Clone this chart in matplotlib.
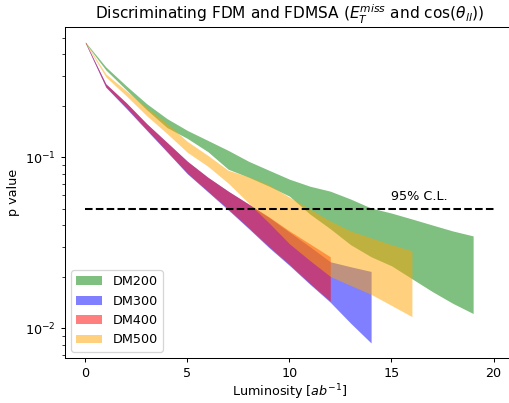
import matplotlib
matplotlib.use("Agg")
import matplotlib.pyplot as plt

# ── Data (p value bands vs luminosity) ────────────────────────────────────────

lumi_200 = list(range(0, 20))
dm200_hi = [0.4725, 0.3381, 0.2622, 0.2061, 0.1685, 0.1436, 0.1256, 0.1098, 0.0948, 0.0840,
            0.0745, 0.0678, 0.0634, 0.0570, 0.0505, 0.0472, 0.0436, 0.0402, 0.0371, 0.0347]
dm200_lo = [0.4662, 0.3248, 0.2485, 0.1901, 0.1494, 0.1290, 0.1080, 0.0852, 0.0765, 0.0678,
            0.0593, 0.0466, 0.0382, 0.0308, 0.0262, 0.0232, 0.0195, 0.0164, 0.0140, 0.0122]

lumi_300 = list(range(0, 15))
dm300_hi = [0.4725, 0.2693, 0.2088, 0.1576, 0.1223, 0.0948, 0.0765, 0.0634, 0.0533, 0.0445,
            0.0365, 0.0300, 0.0245, 0.0229, 0.0215]
dm300_lo = [0.4662, 0.2570, 0.1935, 0.1440, 0.1075, 0.0800, 0.0628, 0.0492, 0.0383, 0.0296,
            0.0233, 0.0181, 0.0142, 0.0107, 0.0082]

lumi_400 = list(range(0, 13))
dm400_hi = [0.4725, 0.2693, 0.2088, 0.1576, 0.1223, 0.0948, 0.0765, 0.0634, 0.0533, 0.0448,
            0.0371, 0.0312, 0.0262]
dm400_lo = [0.4662, 0.2587, 0.1953, 0.1455, 0.1084, 0.0807, 0.0634, 0.0498, 0.0387, 0.0300,
            0.0236, 0.0183, 0.0144]

lumi_500 = list(range(0, 17))
dm500_hi = [0.4725, 0.3078, 0.2452, 0.1953, 0.1576, 0.1239, 0.1027, 0.0840, 0.0770, 0.0690,
            0.0585, 0.0498, 0.0424, 0.0371, 0.0338, 0.0308, 0.0284]
dm500_lo = [0.4662, 0.2957, 0.2293, 0.1754, 0.1378, 0.1069, 0.0887, 0.0706, 0.0540, 0.0413,
            0.0312, 0.0249, 0.0201, 0.0178, 0.0158, 0.0136, 0.0117]

CL_LEVEL = 0.05

# ── Plot ──────────────────────────────────────────────────────────────────────

DPI = 92
fig = plt.figure(figsize=(509 / DPI, 403 / DPI), dpi=DPI)
ax = fig.add_axes([0.1277, 0.1117, 0.882, 0.821])

bands = [
    ("DM200", lumi_200, dm200_lo, dm200_hi, "green"),
    ("DM300", lumi_300, dm300_lo, dm300_hi, "blue"),
    ("DM400", lumi_400, dm400_lo, dm400_hi, "red"),
    ("DM500", lumi_500, dm500_lo, dm500_hi, "orange"),
]
for name, x, lo, hi, col in bands:
    ax.fill_between(x, lo, hi, color=col, alpha=0.5, linewidth=0, label=name)

ax.hlines(CL_LEVEL, 0, 20, colors="black", linestyles="--", linewidth=1.6)
ax.text(15, 0.056, "95% C.L.")

ax.set_yscale("log")
ax.set_xlim(-1, 21)
ax.set_ylim(0.0067, 0.578)
ax.set_xticks([0, 5, 10, 15, 20])
ax.set_xlabel("Luminosity [$ab^{-1}$]", labelpad=2)
ax.set_ylabel("p value")
ax.set_title(r"Discriminating FDM and FDMSA ($E_T^{miss}$ and $\cos(\theta_{ll})$)")
ax.legend(loc="lower left")

fig.savefig("out.png", dpi=DPI)
